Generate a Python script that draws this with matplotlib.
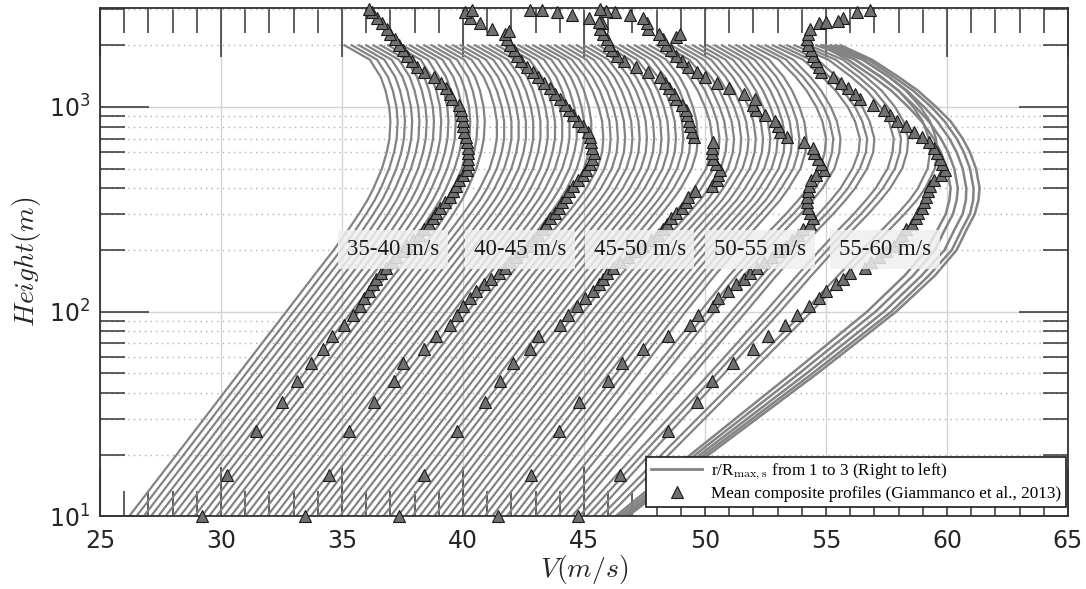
import numpy as np
import matplotlib.pyplot as plt
from matplotlib.lines import Line2D
from matplotlib.ticker import MultipleLocator, LogLocator, NullFormatter

plt.rcParams['mathtext.fontset'] = 'cm'

# ---- model profiles: heights (m) ----
z_model = [10, 20, 50, 100, 150, 200, 250, 300, 350, 400, 500, 600, 700,
           850, 1000, 1200, 1400, 1700, 2000]

# speed gain above the 10 m value, one shape per family of curves
dv_35_40 = [0, 1.96, 4.54, 6.5, 7.64, 8.46, 9.05, 9.5, 9.85, 10.1, 10.45,
            10.65, 10.76, 10.8, 10.75, 10.6, 10.4, 9.95, 8.9]
dv_40_45 = [0, 1.96, 4.54, 6.5, 7.64, 8.46, 9.1, 9.6, 10.0, 10.3, 10.7,
            10.9, 11.0, 11.0, 10.9, 10.7, 10.45, 9.95, 8.9]
dv_45_50 = [0, 1.96, 4.54, 6.5, 7.64, 8.5, 9.15, 9.7, 10.15, 10.5, 10.95,
            11.15, 11.2, 11.15, 11.0, 10.75, 10.45, 9.9, 8.9]
dv_50_55 = [0, 1.96, 4.54, 6.5, 7.7, 8.6, 9.3, 9.9, 10.4, 10.75, 11.25,
            11.45, 11.5, 11.4, 11.2, 10.9, 10.55, 9.95, 8.9]
dv_55_60a = [0, 2.05, 4.75, 6.8, 8.0, 8.95, 9.7, 10.35, 10.85, 11.25, 11.75,
             11.95, 12.0, 11.85, 11.6, 11.2, 10.75, 10.05, 8.9]
dv_55_60b = [0, 2.15, 5.05, 7.2, 8.45, 9.4, 10.15, 10.8, 11.3, 11.7, 12.2,
             12.45, 12.5, 12.3, 12.0, 11.5, 10.95, 10.15, 8.9]
dv_55_60c = [0, 2.3, 5.4, 7.7, 9.0, 9.95, 10.7, 11.35, 11.85, 12.25, 12.75,
             12.95, 13.0, 12.8, 12.45, 11.9, 11.25, 10.3, 8.9]
dv_55_60d = [0, 2.5, 5.85, 8.4, 9.8, 10.8, 11.6, 12.25, 12.75, 13.1, 13.5,
             13.6, 13.55, 13.3, 12.9, 12.3, 11.6, 10.5, 8.9]

# 10 m speeds of each curve (r/R from 3 on the left to 1 on the right)
v10_35_40 = [26.2, 26.5, 26.8, 27.1, 27.4, 27.7, 28.0, 28.3, 28.6, 28.9, 29.2, 29.5, 29.8, 30.1]
v10_40_45 = [30.4, 30.7, 31.0, 31.3, 31.6, 31.9, 32.2, 32.5, 32.8, 33.1, 33.4, 33.7, 34.0, 34.3]
v10_45_50 = [34.6, 34.9, 35.2, 35.5, 35.8, 36.1, 36.4, 36.7, 37.0, 37.3, 37.6, 37.9, 38.2, 38.5]
v10_50_55 = [38.8, 39.1, 39.4, 39.7, 40.0, 40.3, 40.6, 40.9, 41.2, 41.5, 41.8, 42.1, 42.4, 42.7]
v10_55_60a = [43.0, 43.3, 43.6]
v10_55_60b = [43.9, 44.2, 44.5]
v10_55_60c = [44.8, 45.1, 45.4]
v10_55_60d = [45.7, 46.0]

# strongest curves near r/R = 1 (55-60 m/s bin)
v_core_1 = [46.3, 49.4, 53.6, 56.7, 58.25, 59.15, 59.6, 59.95, 60.1, 60.15,
            60.0, 59.75, 59.45, 58.95, 58.4, 57.7, 56.95, 55.9, 54.8]
v_core_2 = [46.45, 49.6, 53.9, 57.05, 58.6, 59.5, 59.9, 60.25, 60.4, 60.45,
            60.3, 60.05, 59.75, 59.25, 58.7, 58.0, 57.25, 56.2, 55.0]
v_core_3 = [46.6, 49.8, 54.2, 57.4, 58.95, 59.9, 60.3, 60.65, 60.78, 60.8,
            60.65, 60.4, 60.1, 59.6, 59.05, 58.35, 57.6, 56.55, 55.2]
v_core_4 = [46.7, 49.98, 54.45, 57.7, 59.25, 60.2, 60.6, 60.95, 61.08, 61.1,
            60.95, 60.7, 60.4, 59.9, 59.35, 58.6, 57.8, 56.75, 55.4]
v_core_5 = [46.8, 50.15, 54.65, 57.9, 59.5, 60.4, 60.8, 61.15, 61.3, 61.35,
            61.2, 60.95, 60.65, 60.15, 59.55, 58.8, 58.0, 56.9, 55.6]

# ---- mean composite profiles (Giammanco et al., 2013) ----
z_low = [10, 16, 26, 36, 46, 56, 66, 76, 86, 96, 106, 116, 126]
z_up = [136, 145, 154, 164, 174, 185, 197, 210, 223, 237, 252, 268, 285, 303,
        322, 342, 364, 387, 411, 437, 465, 494, 525, 558, 593, 630, 670, 712,
        757, 805, 855, 909, 966, 1027, 1092, 1160, 1233, 1310, 1393, 1480,
        1573, 1672, 1777, 1889, 2007, 2134, 2268, 2410, 2562, 2723, 2894]

obs_low_35_40 = [29.2, 30.26, 31.45, 32.53, 33.13, 33.7, 34.2, 34.57, 35.1, 35.47, 35.74, 35.92, 36.13]
obs_low_40_45 = [33.47, 34.45, 35.3, 36.32, 37.15, 37.5, 38.4, 38.9, 39.46, 39.74, 40.0, 40.3, 40.55]
obs_low_45_50 = [37.37, 38.39, 39.74, 40.9, 41.53, 42.08, 42.77, 43.1, 44.0, 44.35, 44.7, 45.04, 45.38]
obs_low_50_55 = [41.46, 42.8, 43.98, 44.81, 46.0, 46.56, 47.45, 48.48, 49.38, 49.7, 50.35, 50.55, 50.96]
obs_low_55_60 = [44.77, 46.5, 48.48, 49.65, 50.27, 51.17, 51.97, 52.6, 53.3, 53.8, 54.3, 54.7, 55.0]

obs_up_35_40 = [36.3, 36.4, 36.6, 36.8, 37.05, 37.25, 37.5, 37.7, 37.95, 38.2,
                38.4, 38.6, 38.75, 38.9, 39.05, 39.25, 39.45, 39.6, 39.72, 39.85,
                40.0, 40.15, 40.2, 40.22, 40.22, 40.2, 40.17, 40.12, 40.05, 40.0,
                39.98, 39.95, 39.9, 39.82, 39.55, 39.45, 39.3, 39.1, 38.8, 38.4,
                38.1, 37.9, 37.7, 37.5, 37.35, 37.2, 37.0, 36.85, 36.65, 36.45,
                36.25]
obs_up_40_45 = [40.85, 41.15, 41.5, 41.75, 41.95, 42.2, 42.45, 42.7, 42.9, 43.1,
                43.3, 43.45, 43.6, 43.8, 43.95, 44.1, 44.25, 44.4, 44.55, 44.75,
                44.95, 45.1, 45.25, 45.35, 45.4, 45.35, 45.3, 45.25, 45.15, 44.95,
                44.75, 44.55, 44.4, 44.2, 44.0, 43.8, 43.6, 43.35, 43.1, 42.9,
                42.65, 42.4, 42.25, 42.1, 41.95, 41.8, 41.75, 41.2, 40.7, 40.3,
                40.1]
obs_up_45_50 = [45.6, 45.8, 45.95, 46.2, 46.5, 46.8, 47.1, 47.45, 47.75, 48.05,
                48.28, 48.45, 48.6, 48.8, 49.05, 49.2, 49.3, 49.6, 50.27, 50.48,
                50.55, 50.6, 50.45, 50.35, 50.27, 50.3, 50.35, 49.55, 49.48, 49.4,
                49.32, 49.27, 49.2, 49.05, 48.8, 48.7, 48.5, 48.35, 48.14, 47.65,
                47.15, 46.65, 46.35, 46.15, 46.05, 45.95, 45.8, 45.65, 45.75, 45.2,
                43.9]
obs_up_50_55 = [51.3, 51.6, 51.86, 52.15, 52.45, 52.75, 53.05, 53.35, 53.6, 53.85,
                54.05, 54.35, 54.45, 54.35, 54.27, 54.2, 54.2, 54.27, 54.3, 54.4,
                54.6, 54.9, 54.8, 54.65, 54.5, 54.48, 54.1, 53.4, 53.1, 53.0,
                52.9, 52.5, 52.1, 52.0, 52.05, 51.6, 51.0, 50.5, 50.0, 49.65,
                49.3, 49.05, 48.8, 48.6, 48.4, 48.25, 48.1, 47.65, 47.6, 47.45,
                46.3]
obs_up_55_60 = [55.4, 55.7, 56.0, 56.6, 56.85, 57.2, 57.5, 57.8, 58.0, 58.15,
                58.3, 58.55, 58.7, 58.8, 58.95, 59.05, 59.12, 59.2, 59.28, 59.45,
                59.75, 59.9, 59.8, 59.72, 59.6, 59.45, 59.25, 58.95, 58.65, 58.3,
                57.95, 57.65, 57.4, 56.95, 56.4, 56.2, 55.9, 55.6, 55.3, 54.8,
                54.72, 54.6, 54.45, 54.38, 54.27, 54.2, 54.25, 54.35, 54.7, 55.7,
                56.3]

# scattered points near the top of each sounding
z_top_35_40 = [3000]
v_top_35_40 = [36.1]
z_top_40_45 = [2340, 2970]
v_top_40_45 = [41.9, 40.36]
z_top_45_50 = [2600, 2800, 2970, 2970]
v_top_45_50 = [45.6, 44.5, 43.25, 42.77]
z_top_50_55 = [2200, 2280, 2800, 2940, 3000]
v_top_50_55 = [48.8, 48.97, 46.9, 45.9, 45.65]
z_top_55_60 = [2600, 2630, 2970]
v_top_55_60 = [55.0, 55.5, 56.8]

bin_labels = ['35-40 m/s', '40-45 m/s', '45-50 m/s', '50-55 m/s', '55-60 m/s']
label_v = [37.1, 42.35, 47.3, 52.27, 57.44]

line_col = '#838383'
ink = '#262626'

fig = plt.figure(figsize=(10.86, 5.89), dpi=100)
ax = fig.add_axes([0.0921, 0.1233, 0.8913, 0.8626])

families = [(dv_35_40, v10_35_40), (dv_40_45, v10_40_45), (dv_45_50, v10_45_50),
            (dv_50_55, v10_50_55), (dv_55_60a, v10_55_60a), (dv_55_60b, v10_55_60b),
            (dv_55_60c, v10_55_60c), (dv_55_60d, v10_55_60d)]
for dv, v10s in families:
    for v10 in v10s:
        ax.plot(np.add(v10, dv), z_model, color=line_col, lw=1.6, zorder=2)
for vc in [v_core_1, v_core_2, v_core_3, v_core_4, v_core_5]:
    ax.plot(vc, z_model, color=line_col, lw=1.8, zorder=2)

obs = [(obs_low_35_40, obs_up_35_40, z_top_35_40, v_top_35_40),
       (obs_low_40_45, obs_up_40_45, z_top_40_45, v_top_40_45),
       (obs_low_45_50, obs_up_45_50, z_top_45_50, v_top_45_50),
       (obs_low_50_55, obs_up_50_55, z_top_50_55, v_top_50_55),
       (obs_low_55_60, obs_up_55_60, z_top_55_60, v_top_55_60)]
for lo, up, zt, vt in obs:
    ax.plot(lo + up + vt, z_low + z_up + zt, ls='none', marker='^', ms=9,
            mfc='#707070', mec='#1a1a1a', mew=0.8, clip_on=False, zorder=4)

for txt, v in zip(bin_labels, label_v):
    ax.text(v, 201, txt, ha='center', va='center', fontsize=16.5,
            family='Liberation Serif', color='#1a1a1a', zorder=5,
            bbox=dict(boxstyle='square,pad=0.38', fc='#efefef', ec='none', alpha=0.85))

ax.set_yscale('log')
ax.set_xlim(25, 65)
ax.set_ylim(10, 3030)
ax.xaxis.set_major_locator(MultipleLocator(5))
ax.xaxis.set_minor_locator(MultipleLocator(1))
ax.yaxis.set_major_locator(LogLocator(base=10))
ax.yaxis.set_minor_locator(LogLocator(base=10, subs=range(2, 10)))
ax.yaxis.set_minor_formatter(NullFormatter())

ax.grid(which='major', color='#d4d4d4', lw=1.0, ls='-', zorder=0)
ax.grid(which='minor', axis='y', color='#b0b0b0', lw=1.0, ls=(0, (1, 3)), zorder=0)
ax.set_axisbelow(True)

ax.tick_params(which='major', direction='in', length=35, width=1.1, color='#333333',
               top=True, right=True, labelsize=17, labelcolor=ink)
ax.tick_params(which='minor', direction='in', length=18, width=1.1, color='#333333',
               top=True, right=True)
ax.tick_params(axis='x', which='major', pad=9)
ax.tick_params(axis='y', which='major', pad=7)
for sp in ax.spines.values():
    sp.set_color('#333333')
    sp.set_linewidth(1.3)

ax.set_xlabel('$V(m/s)$', fontsize=20, color=ink, labelpad=0)
ax.set_ylabel('$Height(m)$', fontsize=20, color=ink, labelpad=4)

handles = [Line2D([], [], color=line_col, lw=2),
           Line2D([], [], ls='none', marker='^', ms=9, mfc='#707070', mec='#1a1a1a', mew=0.8)]
names = [r'r/R$_{\rm max,s}$ from 1 to 3 (Right to left)',
         'Mean composite profiles (Giammanco et al., 2013)']
leg = ax.legend(handles, names, loc='lower right', bbox_to_anchor=(0.998, 0.0185),
                borderaxespad=0, fancybox=False, framealpha=1, edgecolor='#1a1a1a',
                prop={'family': 'Liberation Serif', 'size': 12.3},
                handlelength=3, handletextpad=0.5, labelspacing=0.2, borderpad=0.3)
leg.get_frame().set_linewidth(1.2)
leg.set_zorder(6)

fig.savefig('out.png', dpi=100)
